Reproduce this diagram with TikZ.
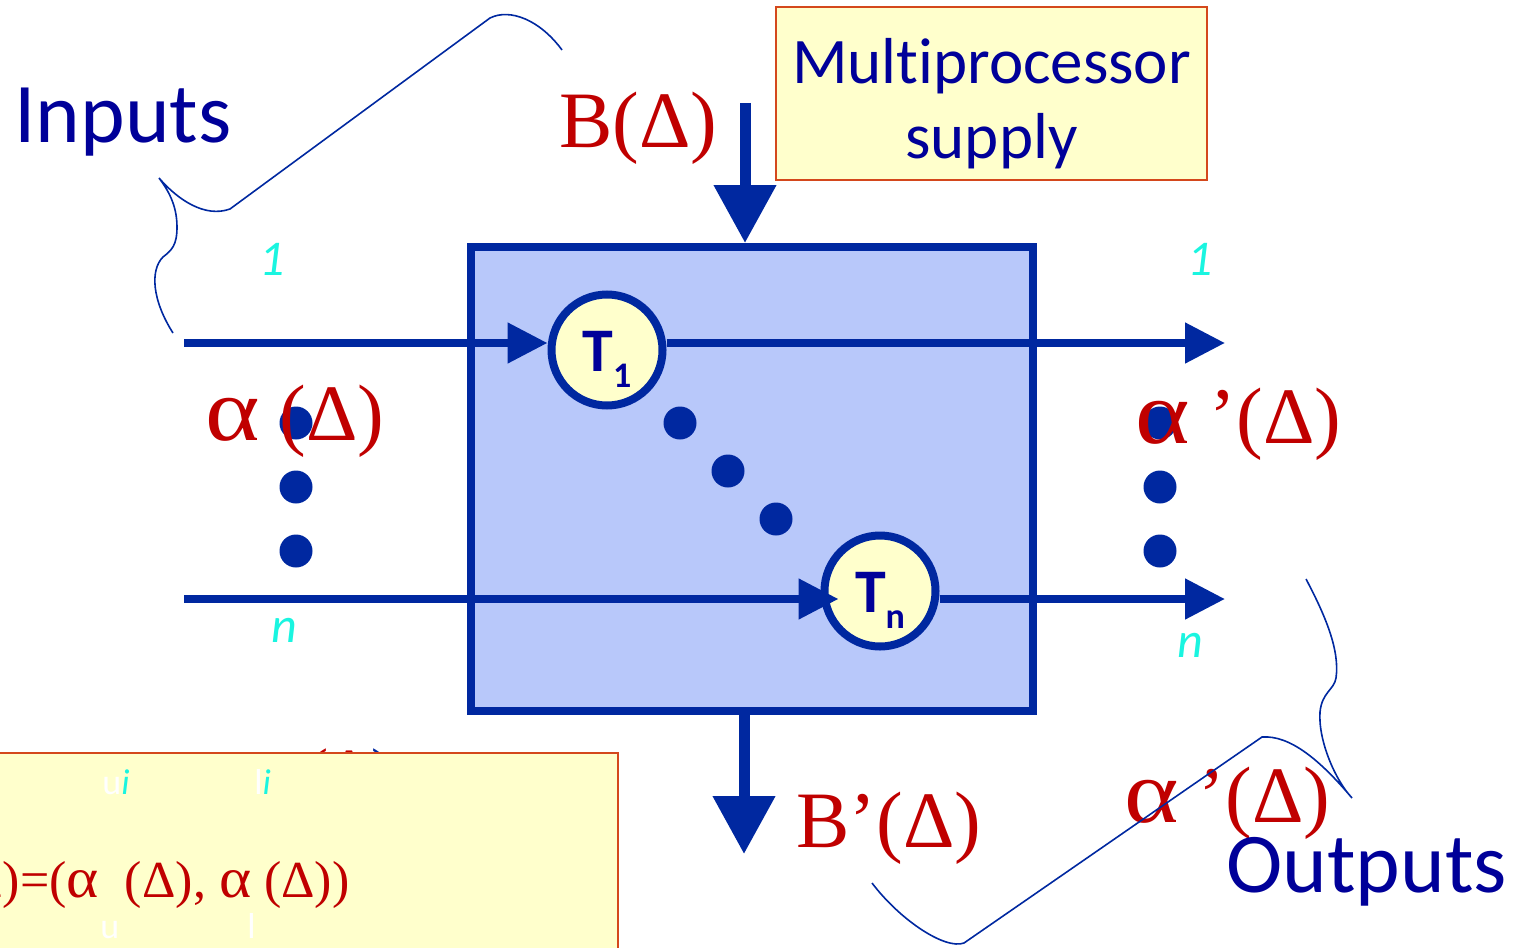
\documentclass[tikz,border=0pt]{standalone}
\usepackage{fontspec}
\setmainfont{Liberation Serif}
\newfontfamily\calib{Carlito}[Ligatures={NoCommon}]
\usepackage{xcolor}
\usepackage{tikz}
\usetikzlibrary{arrows.meta,positioning,calc}
\definecolor{lineblue}{HTML}{0028A0}
\definecolor{boxblue}{HTML}{B8C8FA}
\definecolor{inkblue}{HTML}{000099}
\definecolor{curvered}{HTML}{C00000}
\definecolor{idxcyan}{HTML}{1AF5E0}
\definecolor{noteyellow}{HTML}{FFFFCC}
\definecolor{noteedge}{HTML}{D4481C}
\tikzset{
  procbox/.style={draw=lineblue, line width=4pt, fill=boxblue, inner sep=0pt,
                  minimum width=281pt, minimum height=232pt},
  task/.style={circle, draw=lineblue, line width=4pt, fill=noteyellow, inner sep=0pt,
               minimum size=55.5pt, text height=25pt, text depth=4pt,
               font=\calib\bfseries\fontsize{31}{31}\selectfont\color{inkblue}},
  flow/.style={-{Triangle[length=20pt,width=19.5pt]}, line width=4pt, draw=lineblue},
  supply/.style={-{Triangle[length=29pt,width=30pt]}, line width=5.5pt, draw=lineblue},
  note/.style={draw=noteedge, line width=1pt, fill=noteyellow, inner sep=0pt},
  redtext/.style={inner sep=0pt, font=\fontsize{40}{44}\selectfont\color{curvered}},
  tag/.style={inner sep=0pt, font=\calib\fontsize{42.5}{46}\selectfont\color{inkblue}},
  idx/.style={inner sep=0pt, font=\calib\itshape\fontsize{25}{25}\selectfont\color{idxcyan}},
  brace/.style={draw=lineblue, line width=0.8pt},
  seqdot/.style={circle, fill=lineblue, inner sep=0pt, minimum size=16.5pt}
}
\newcommand{\tsub}[1]{\raisebox{-8pt}{\fontsize{18}{18}\selectfont #1}}
\newcommand{\alf}{\scalebox{1.3}[1.12]{α}}
\newcommand{\alfs}{\scalebox{1.18}[1.1]{α}}

\begin{document}
\begin{tikzpicture}[x=0.5pt,y=-0.5pt]
  \useasboundingbox (0,0) rectangle (1519,947);
  \clip (0,0) rectangle (1519,947);

  % supply box and processor
  \node[note, minimum width=215.5pt, minimum height=86.5pt] (supplybox) at (991.5,93.5) {};
  \node[inner sep=0pt, align=center, yshift=-5pt,
        font=\calib\fontsize{32.5}{37.5}\selectfont\color{inkblue}] (supplytext) at (supplybox) {Multiprocessor\\supply};
  \node[procbox] (proc) at (752,479) {};

  % hidden label under the formula box
  \node[inner sep=0pt, anchor=base, font=\fontsize{33}{36}\selectfont\color{curvered}] (hidden) at (350,794) {(Δ\textcolor{lineblue}{)}};

  % dots
  \foreach \y/\k in {423/1,487/2,551/3} {
    \node[seqdot] (ldot\k) at (296,\y) {};
    \node[seqdot] (rdot\k) at (1160,\y) {};
  }
  \foreach \x/\y/\k in {680/423/1,728/471/2,776/519/3}
    \node[seqdot] (mdot\k) at (\x,\y) {};

  % tasks
  \node[task] (T1) at (607,350) {T\tsub{1}};
  \node[task] (Tn) at (880,591) {T\tsub{n}};

  \coordinate (in1) at (184,343);
  \coordinate (inN) at (184,599);
  \coordinate (out1) at (1225,343);
  \coordinate (outN) at (1225,599);
  \coordinate (bin) at (745,103);
  \coordinate (bout) at (744,854);

  \draw[flow] (in1) -- (T1.west |- in1);
  \draw[flow] (T1.east |- out1) -- (out1);
  \draw[flow, shorten >=-9pt] (inN) -- (Tn.west |- inN);
  \draw[flow] (Tn.east |- outN) -- (outN);
  \draw[supply] (bin) -- (bin |- proc.north);
  \draw[supply] (bout |- proc.south) -- (bout);

  % labels
  \node[tag, anchor=base west] (inputs) at (14,142) {Inputs};
  \node[redtext, anchor=base west] (blabel) at (559,148) {B(Δ)};
  \node[redtext, anchor=base west] (ain) at (205,440) {\alf{} (Δ)};
  \node[redtext, anchor=base west] (aout) at (1135,443) {\alf{} ’(Δ)};
  \node[redtext, anchor=base west] (bplabel) at (796,847) {B’(Δ)};
  \node[idx, anchor=base west] (i1) at (259,275) {1};
  \node[idx, anchor=base west] (o1) at (1187,275) {1};
  \node[idx, anchor=base west] (iN) at (271,642) {n};
  \node[idx, anchor=base west] (oN) at (1177,657) {n};

  % formula box
  \node[note, anchor=north west, minimum width=313.5pt, minimum height=110pt] (formula) at (-10,752) {};
  \node[inner sep=0pt, anchor=base east, font=\fontsize{26}{30}\selectfont\color{curvered}] (ftext) at (350,897) {Δ)=(\alfs\ \ (Δ), \alfs{} (Δ))};
  \node[inner sep=0pt, anchor=base west, font=\calib\fontsize{18}{18}\selectfont\color{white}] (su1) at (102,794) {u\textcolor{idxcyan}{\itshape i}};
  \node[inner sep=0pt, anchor=base west, font=\calib\fontsize{18}{18}\selectfont\color{white}] (sl1) at (254,794) {l\textcolor{idxcyan}{\itshape i}};
  \node[inner sep=0pt, anchor=base west, font=\calib\fontsize{18}{18}\selectfont\color{white}] (su2) at (100,938) {u};
  \node[inner sep=0pt, anchor=base west, font=\calib\fontsize{18}{18}\selectfont\color{white}] (sl2) at (247,938) {l};

  % braces
  \draw[brace] (173,333) .. controls (152,300) and (150,270) .. (163,257)
     .. controls (172,250) and (177,245) .. (177,227)
     .. controls (177,205) and (168,190) .. (159,178)
     .. controls (178,200) and (205,218) .. (230,209) -- (490,18)
     .. controls (510,8) and (540,20) .. (562,50);
  \node[redtext, anchor=base west] (aout2) at (1124,822) {\alf{} ’(Δ)};
  \draw[brace] (1306,579) .. controls (1325,615) and (1340,650) .. (1336,678)
     .. controls (1334,690) and (1322,692) .. (1320,712)
     .. controls (1318,740) and (1335,780) .. (1352,798)
     .. controls (1320,760) and (1290,735) .. (1262,737) -- (964,943)
     .. controls (945,950) and (900,920) .. (872,883);
  \node[tag, anchor=base west] (outputs) at (1226,892) {Outputs};
\end{tikzpicture}
\end{document}
